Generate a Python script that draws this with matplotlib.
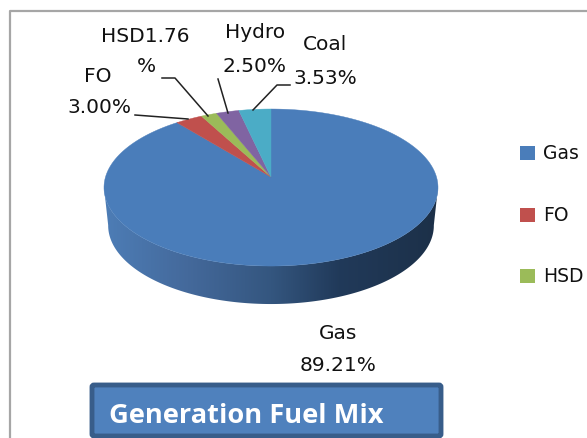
#!/usr/bin/env python3
"""Generation fuel mix: tilted 3-D looking pie with a title box under it."""

import numpy as np
import matplotlib
matplotlib.use("Agg")
import matplotlib.pyplot as plt
from matplotlib.colors import LinearSegmentedColormap
from matplotlib.patches import FancyBboxPatch, Polygon, Rectangle

FUELS = ["Gas", "FO", "HSD", "Hydro", "Coal"]
SHARES = [89.21, 3.00, 1.76, 2.50, 3.53]
COLORS = ["#4A7DBA", "#C0504D", "#9BBB59", "#8064A2", "#4BACC6"]
LEGEND_FUELS = ["Gas", "FO", "HSD"]

# everything is laid out in reference pixels
W, H = 587, 439
CX, CY = 271, 178
R, A, K = 165.5, 77.1, -0.134  # perspective of the pie disc
DEPTH = 38

plt.rcParams["font.family"] = ["DejaVu Sans"]
TXT = "#111111"


def project(theta):
    # theta is clockwise from 12 o'clock on the flat disc
    u, v = np.sin(theta), -np.cos(theta)
    d = 1 + K * v
    return CX + R * u / d, CY + A * v / d


fig = plt.figure(figsize=(W / 100, H / 100), dpi=100)
ax = fig.add_axes([0, 0, 1, 1])
ax.set_xlim(0, W)
ax.set_ylim(H, 0)
ax.axis("off")

# chart frame, cut by the right and bottom edge of the picture
ax.plot([9.5, 9.5, W + 2], [H + 2, 12, 12], color="#a6a6a6", lw=1.6)

# side wall, its lower rim a little narrower than the top face
t = np.linspace(0, 2 * np.pi, 721)
x, y = project(t)
i0, i1 = np.argmax(x), np.argmin(x)
rx, ry = x[i0:i1 + 1], y[i0:i1 + 1]
bx = CX + (rx - CX) * 0.975
wall = np.column_stack([np.r_[rx, bx[::-1]], np.r_[ry, ry[::-1] + DEPTH]])
cmap = LinearSegmentedColormap.from_list(
    "wall", [(0, "#4d7db6"), (0.25, "#44699b"), (0.5, "#34567f"), (0.7, "#213a5a"),
             (1, "#1c3048")])
im = ax.imshow(np.linspace(0, 1, 256)[None, :], cmap=cmap, aspect="auto",
               extent=(rx.min(), rx.max(), H, 0), zorder=2)
im.set_clip_path(Polygon(wall, transform=ax.transData))
ax.set_xlim(0, W)
ax.set_ylim(H, 0)

# top face, clockwise from 12 o'clock
edges = np.r_[0, np.cumsum(SHARES)] / sum(SHARES) * 2 * np.pi
for a, b, c in zip(edges[:-1], edges[1:], COLORS):
    px, py = project(np.linspace(a, b, 200))
    ax.fill(np.r_[CX, px], np.r_[CY, py], color=c, lw=0.3, zorder=3)

# leader lines
for lx, ly in [([135, 188], [116, 120]),
               ([162, 175, 208], [79, 79, 117]),
               ([218, 228], [80, 114]),
               ([290, 277, 253], [86, 86, 111])]:
    ax.plot(lx, ly, color="#222222", lw=1.1, zorder=4)

# data labels
FS = 14.5
for s, tx, ty in [("FO", 98, 76), ("3.00%", 99, 108),
                  ("HSD1.76", 145, 36), ("%", 146, 67),
                  ("Hydro", 255, 33), ("2.50%", 255, 66),
                  ("Coal", 325, 45), ("3.53%", 325, 78),
                  ("Gas", 338, 334), ("89.21%", 338, 366)]:
    ax.text(tx, ty, s, fontsize=FS, color=TXT, ha="center", va="center", zorder=5)

# legend, the picture cuts it off after the third entry
for name, ly in zip(LEGEND_FUELS, [154, 216, 277]):
    c = COLORS[FUELS.index(name)]
    ax.add_patch(Rectangle((520, ly - 7), 15, 14, color=c, lw=0, zorder=5))
    ax.text(543, ly, name, fontsize=FS - 1, color=TXT, ha="left", va="center", zorder=5)

# title box
ax.add_patch(FancyBboxPatch((92, 386), 349, 51, boxstyle="round,pad=0,rounding_size=2",
                            fc="#4F81BD", ec="#385D8A", lw=3.5, zorder=6))
ax.text(109, 416, "Generation Fuel Mix", fontsize=19.6, fontweight="bold", family="Open Sans",
        color="white", ha="left", va="center", zorder=7)

fig.savefig("out.png", dpi=100)
